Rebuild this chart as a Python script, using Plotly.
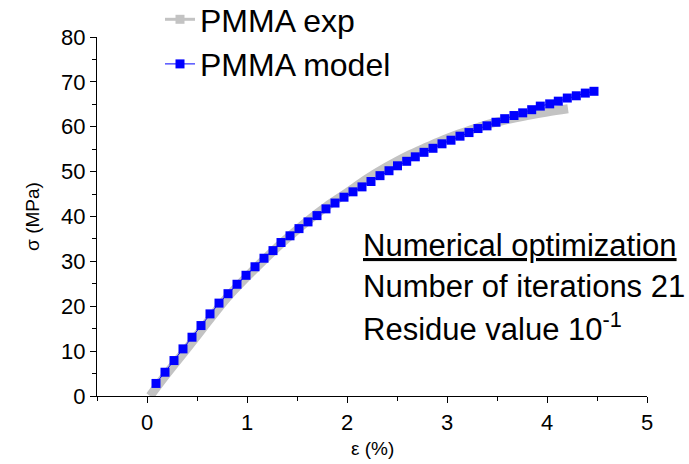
import plotly.graph_objects as go

# ---- data ----
model_strain = [0.09, 0.18, 0.27, 0.36, 0.45, 0.54, 0.63, 0.72, 0.81, 0.90,
                0.99, 1.08, 1.17, 1.26, 1.34, 1.43, 1.52, 1.61, 1.70, 1.79,
                1.88, 1.97, 2.06, 2.15, 2.24, 2.33, 2.42, 2.505, 2.597, 2.683,
                2.77, 2.86, 2.95, 3.04, 3.13, 3.22, 3.31, 3.40, 3.49, 3.577,
                3.67, 3.757, 3.847, 3.933, 4.027, 4.113, 4.203, 4.293, 4.383, 4.47]
model_stress = [2.8, 5.3, 7.9, 10.5, 13.1, 15.7, 18.3, 20.7, 22.8, 24.9,
                26.9, 28.8, 30.7, 32.4, 34.2, 35.7, 37.3, 38.8, 40.2, 41.7,
                43.0, 44.3, 45.5, 46.6, 47.8, 49.1, 50.2, 51.3, 52.3, 53.3,
                54.3, 55.2, 56.2, 57.0, 57.9, 58.7, 59.6, 60.2, 61.0, 61.8,
                62.5, 63.1, 63.8, 64.6, 65.1, 65.7, 66.4, 66.9, 67.5, 67.9]

exp_strain = [0.03, 0.2, 0.4, 0.6, 0.8, 1.0, 1.2, 1.4, 1.6, 1.8, 2.0,
              2.2, 2.4, 2.6, 2.8, 3.0, 3.2, 3.4, 3.6, 3.8, 4.0, 4.21]
exp_stress = [0.0, 5.0, 10.6, 16.3, 21.9, 26.6, 31.0, 35.1, 38.9, 42.3, 45.3,
              48.4, 51.1, 53.5, 55.5, 57.4, 59.0, 60.5, 61.6, 62.5, 63.3, 64.0]

x_ticks = [0, 1, 2, 3, 4, 5]
y_ticks = [0, 10, 20, 30, 40, 50, 60, 70, 80]

x_title = "ε (%)"
y_title = "σ (MPa)"

notes = ["<u>Numerical optimization</u>",
         "Number of iterations 21",
         "Residue value 10<sup>-1</sup>"]

FONT = "Liberation Sans, Arial, sans-serif"
GRAY = "#C3C3C3"
BLUE = "#0000FF"

fig = go.Figure()

# experimental curve (thick gray band)
fig.add_trace(go.Scatter(x=exp_strain, y=exp_stress, mode="lines",
                         line=dict(color=GRAY, width=9, shape="spline"),
                         showlegend=False, hoverinfo="skip"))
# legend proxy for experimental curve
fig.add_trace(go.Scatter(x=[None], y=[None], mode="lines+markers",
                         name="PMMA exp",
                         line=dict(color=GRAY, width=3),
                         marker=dict(symbol="square", size=9, color=GRAY)))
# model
fig.add_trace(go.Scatter(x=model_strain, y=model_stress, mode="lines+markers",
                         name="PMMA model",
                         line=dict(color=BLUE, width=1),
                         marker=dict(symbol="square", size=9, color=BLUE,
                                     line=dict(width=0))))

L, R, T, B = 97, 42, 37, 68
W, H = 689, 464
pw, ph = W - L - R, H - T - B

def px_x(p):
    return (p - L) / pw

def px_y(p):
    return (H - B - p) / ph

note_y = [245, 286, 327]
for txt, yy in zip(notes, note_y):
    fig.add_annotation(text=txt, xref="paper", yref="paper",
                       x=px_x(361), y=px_y(yy), xanchor="left", yanchor="middle",
                       showarrow=False, font=dict(family=FONT, size=31, color="black"))

# x-axis title placed as annotation for exact positioning
fig.add_annotation(text=x_title, xref="paper", yref="paper",
                   x=px_x(372), y=px_y(448), xanchor="center", yanchor="middle",
                   showarrow=False, font=dict(family=FONT, size=19, color="black"))

axis_common = dict(showline=True, linecolor="black", linewidth=1.3,
                   ticks="outside", ticklen=6, tickwidth=1.3, tickcolor="black",
                   showgrid=False, zeroline=False, mirror=False, automargin=False,
                   tickfont=dict(family=FONT, size=22, color="black"))

fig.update_xaxes(range=[-0.5, 5], tickvals=x_ticks,
                 minor=dict(ticks="outside", ticklen=4, tickcolor="black",
                            tickwidth=1.3, dtick=0.5),
                 **axis_common)
fig.update_yaxes(range=[0, 80], tickvals=y_ticks,
                 minor=dict(ticks="outside", ticklen=4, tickcolor="black",
                            tickwidth=1.3, dtick=5),
                 title=dict(text=y_title, font=dict(family=FONT, size=19, color="black"),
                            standoff=16),
                 **axis_common)

fig.update_layout(width=W, height=H,
                  margin=dict(l=L, r=R, t=T, b=B, pad=0, autoexpand=False),
                  paper_bgcolor="white", plot_bgcolor="white",
                  font=dict(family=FONT, color="black"),
                  legend=dict(x=px_x(160), y=px_y(-8), xanchor="left", yanchor="top",
                              bgcolor="rgba(0,0,0,0)", borderwidth=0,
                              font=dict(family=FONT, size=32, color="black"),
                              tracegroupgap=0, itemwidth=30))

fig.write_html("out.html", config={"displayModeBar": False},
               post_script="document.body.style.margin='0';document.body.style.overflow='hidden';")
